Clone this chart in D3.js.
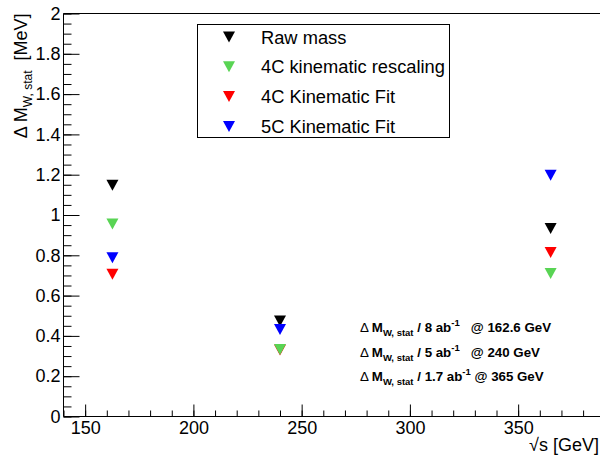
<!doctype html>
<html>
<head>
	<meta charset="utf-8">
	<script src="https://d3js.org/d3.v7.min.js"></script>
	<style>
		body { margin: 0; background: #fff; }
		text { font-family: "Liberation Sans", Arial, sans-serif; white-space: pre; }
	</style>
</head>
<body>
	<div id="chart"></div>
	<script>
		// energies (GeV) of the three runs
		const energies = [162.6, 240, 365];
		// statistical uncertainty on W mass [MeV], one list per method
		const rawMass = [1.148, 0.474, 0.933];
		const kinRescaling = [0.955, 0.333, 0.71];
		const kinFit4C = [0.706, 0.33, 0.814];
		const kinFit5C = [0.788, 0.432, 1.197];

		const seriesNames = ["Raw mass", "4C kinematic rescaling", "4C Kinematic Fit", "5C Kinematic Fit"];
		const seriesColors = ["#000000", "#59d454", "#ff0000", "#0000ff"];
		const seriesValues = [rawMass, kinRescaling, kinFit4C, kinFit5C];
		const drawOrder = [0, 2, 1, 3];

		const xTicks = [150, 200, 250, 300, 350];
		const yTicks = [0, 0.2, 0.4, 0.6, 0.8, 1, 1.2, 1.4, 1.6, 1.8, 2];
		const yTickLabels = ["0", "0.2", "0.4", "0.6", "0.8", "1", "1.2", "1.4", "1.6", "1.8", "2"];

		const notes = [
			{ lumi: "8", energy: "162.6 GeV", gap: "   " },
			{ lumi: "5", energy: "240 GeV", gap: "   " },
			{ lumi: "1.7", energy: "365 GeV", gap: " " }
		];

		const W = 600, H = 457;
		const padLeft = 63.5, padTop = 13.5, padBottom = 416.5;

		const svg = d3.select("#chart").append("svg")
			.attr("width", W)
			.attr("height", H);

		const x = d3.scaleLinear().domain([140, 400]).range([padLeft, padLeft + 260 * 2.165]);
		const y = d3.scaleLinear().domain([0, 2]).range([padBottom, padTop]);

		// minor ticks
		svg.append("g")
			.attr("transform", "translate(0," + padBottom + ")")
			.call(d3.axisBottom(x).tickValues(d3.range(140, 401, 10)).tickSize(-6).tickFormat(""))
			.call(g => g.select(".domain").remove());
		svg.append("g")
			.attr("transform", "translate(" + padLeft + ",0)")
			.call(d3.axisLeft(y).tickValues(d3.range(0, 41).map(d => d * 0.05)).tickSize(-8).tickFormat(""))
			.call(g => g.select(".domain").remove());

		// major ticks and labels
		svg.append("g")
			.attr("transform", "translate(0," + padBottom + ")")
			.call(d3.axisBottom(x).tickValues(xTicks.concat([400])).tickSize(-12).tickPadding(5)
				.tickFormat(d => xTicks.includes(d) ? String(d) : ""))
			.call(g => g.select(".domain").remove())
			.call(g => g.selectAll("text").attr("font-size", 18).attr("fill", "#000")
				.attr("font-family", "Liberation Sans, Arial, sans-serif"));
		svg.append("g")
			.attr("transform", "translate(" + padLeft + ",0)")
			.call(d3.axisLeft(y).tickValues(yTicks).tickSize(-16).tickPadding(3)
				.tickFormat((d, i) => yTickLabels[i]))
			.call(g => g.select(".domain").remove())
			.call(g => g.selectAll("text").attr("font-size", 18).attr("fill", "#000")
				.attr("font-family", "Liberation Sans, Arial, sans-serif"));

		svg.selectAll(".tick line").attr("stroke", "#000");

		// frame
		svg.append("path")
			.attr("d", "M" + (W + 5) + "," + padTop + "H" + padLeft + "V" + padBottom + "H" + (W + 5))
			.attr("fill", "none")
			.attr("stroke", "#000");

		// axis titles
		const ytitle = svg.append("text")
			.attr("transform", "translate(27," + padTop + ") rotate(-90)")
			.attr("text-anchor", "end")
			.attr("font-size", 18);
		ytitle.append("tspan").text("\u0394 M");
		ytitle.append("tspan").attr("font-size", 12).attr("dy", 5).text("W, stat");
		ytitle.append("tspan").attr("dy", -5).text("  [MeV]");

		svg.append("text")
			.attr("x", 599)
			.attr("y", 451)
			.attr("text-anchor", "end")
			.attr("font-size", 18)
			.text("\u221As [GeV]");

		// markers: downward triangles
		const tri = "M-6,-5.5L6,-5.5L0,5.5Z";
		drawOrder.forEach(function (k) {
			svg.append("g").selectAll("path")
				.data(energies.map((e, i) => [e, seriesValues[k][i]]))
				.join("path")
				.attr("d", tri)
				.attr("transform", d => "translate(" + x(d[0]) + "," + y(d[1]) + ")")
				.attr("fill", seriesColors[k]);
		});

		// legend
		const legend = svg.append("g");
		legend.append("rect")
			.attr("x", 197.5).attr("y", 24.5)
			.attr("width", 252).attr("height", 113)
			.attr("fill", "#fff").attr("stroke", "#000");
		seriesNames.forEach(function (name, i) {
			const cy = 37 + i * 29.8;
			legend.append("path")
				.attr("d", tri)
				.attr("transform", "translate(229," + cy + ")")
				.attr("fill", seriesColors[i]);
			legend.append("text")
				.attr("x", 261)
				.attr("y", cy + 6.5)
				.attr("font-size", 18.3)
				.text(name);
		});

		// luminosity notes
		notes.forEach(function (n, i) {
			const t = svg.append("text")
				.attr("x", 360)
				.attr("y", 332 + i * 24.5)
				.attr("font-size", 13.3)
				.attr("font-weight", "bold");
			t.append("tspan").attr("font-weight", "normal").text("\u0394 ");
			t.append("tspan").text("M");
			t.append("tspan").attr("font-size", 9.5).attr("dy", 4).text("W, stat");
			t.append("tspan").attr("dy", -4).text(" / " + n.lumi + " ab");
			t.append("tspan").attr("font-size", 9.5).attr("dy", -6).text("-1");
			t.append("tspan").attr("dy", 6).text(n.gap + "@ " + n.energy);
		});
	</script>
</body>
</html>
